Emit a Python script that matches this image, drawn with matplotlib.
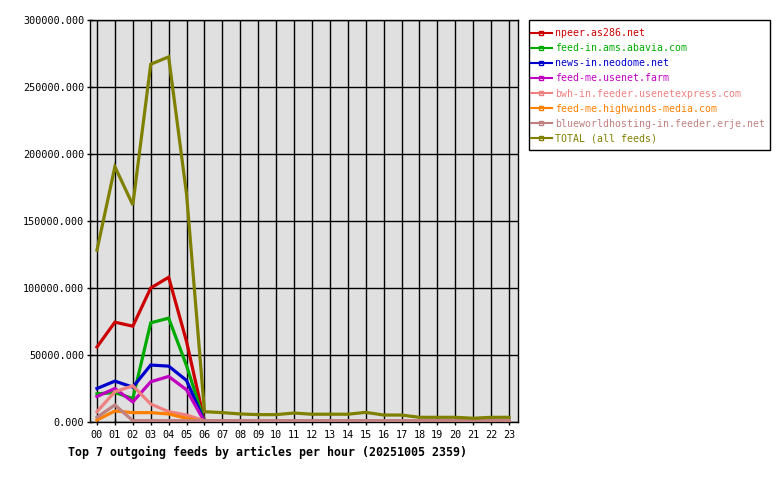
import matplotlib
matplotlib.use("Agg")
import matplotlib.pyplot as plt
from matplotlib.lines import Line2D
from matplotlib.patches import Rectangle
from matplotlib.ticker import MultipleLocator, FormatStrFormatter

hours = list(range(24))
hour_labels = [f"{h:02d}" for h in hours]

feed_names = [
    "npeer.as286.net",
    "feed-in.ams.abavia.com",
    "news-in.neodome.net",
    "feed-me.usenet.farm",
    "bwh-in.feeder.usenetexpress.com",
    "feed-me.highwinds-media.com",
    "blueworldhosting-in.feeder.erje.net",
    "TOTAL (all feeds)",
]
feed_colors = ["#cc0000", "#00aa00", "#0000cc", "#c000c0",
               "#f08080", "#ff8000", "#c08080", "#808000"]

npeer = [56000, 74500, 71500, 100000, 108000, 60000, 300, 200, 200, 200, 200, 200,
         200, 200, 200, 200, 200, 200, 100, 100, 100, 100, 100, 100]
abavia = [21000, 22000, 17500, 74000, 77500, 42000, 200, 200, 200, 200, 200, 200,
          200, 200, 200, 200, 200, 200, 100, 100, 100, 100, 100, 100]
neodome = [25000, 30500, 26000, 42500, 41700, 31000, 300, 300, 300, 300, 300, 300,
           300, 300, 300, 300, 300, 300, 200, 200, 200, 200, 200, 200]
usenetfarm = [19000, 25000, 15000, 30000, 34000, 24000, 200, 200, 200, 200, 200, 200,
              200, 200, 200, 200, 200, 200, 100, 100, 100, 100, 100, 100]
usenetexpress = [7700, 22600, 27000, 13400, 7700, 5200, 1000, 900, 900, 900, 900, 900,
                 900, 900, 900, 900, 900, 900, 800, 800, 800, 800, 800, 800]
highwinds = [1500, 8200, 7000, 7000, 6000, 2800, 200, 200, 200, 200, 200, 200,
             200, 200, 200, 200, 200, 200, 100, 100, 100, 100, 100, 100]
erje = [3500, 12700, 1000, 1000, 1000, 1000, 1000, 1000, 1000, 1000, 1000, 1000,
        1000, 1000, 1000, 1000, 1000, 1000, 1000, 1000, 1000, 1000, 1000, 1000]
total = [128300, 190500, 162000, 267000, 272500, 170000, 7700, 7000, 6000, 5500, 5500, 6700,
         5800, 5800, 5800, 7200, 5200, 5200, 3500, 3500, 3500, 2800, 3500, 3500]

series = [npeer, abavia, neodome, usenetfarm, usenetexpress, highwinds, erje, total]

MONO = ["DejaVu Sans Mono"]
plt.rcParams["font.family"] = MONO

W, H = 780, 480
fig = plt.figure(figsize=(7.8, 4.8), dpi=100)
fig.patch.set_facecolor("white")
ax = fig.add_axes([90 / W, (H - 422) / H, 428 / W, 402 / H])
ax.set_facecolor("#e0e0e0")

for vals, col in zip(series, feed_colors):
    ax.plot(hours, vals, color=col, lw=2.3, solid_joinstyle="miter", zorder=3)

ax.set_xlim(-0.39, 23.5)
ax.set_ylim(0, 300000)
ax.set_xticks(hours)
ax.set_xticklabels(hour_labels)
ax.yaxis.set_major_locator(MultipleLocator(50000))
ax.yaxis.set_major_formatter(FormatStrFormatter("%.3f"))
ax.grid(True, color="black", lw=1.0, zorder=1)
ax.set_axisbelow(True)
ax.tick_params(axis="both", which="major", length=4, width=1, colors="black",
               labelsize=7.3, direction="inout")
ax.tick_params(axis="x", pad=4)
ax.tick_params(axis="y", pad=2)
for s in ax.spines.values():
    s.set_color("black")
    s.set_linewidth(1.0)

# legend box
fig.patches.append(Rectangle((529 / W, 1 - 150 / H), 241 / W, 130 / H,
                             transform=fig.transFigure, facecolor="white",
                             edgecolor="black", lw=1.0))

handles = [Line2D([0], [0], color=c, lw=1.5, marker="s", markersize=3.5,
                  markerfacecolor="none", markeredgecolor=c, markeredgewidth=1.0)
           for c in feed_colors]
leg = fig.legend(handles, feed_names, loc="upper left",
                 bbox_to_anchor=(531 / W, 1 - 28 / H),
                 bbox_transform=fig.transFigure,
                 frameon=False,
                 prop={"family": MONO, "size": 7.1},
                 handlelength=2.1, handletextpad=0.3, labelspacing=0.52,
                 borderpad=0, borderaxespad=0, labelcolor="linecolor")

fig.text(68 / W, 1 - 452 / H, "Top 7 outgoing feeds by articles per hour (20251005 2359)",
         fontsize=8.4, fontweight="bold", family=MONO, va="center", ha="left")

fig.savefig("out.png", dpi=100, facecolor="white")
